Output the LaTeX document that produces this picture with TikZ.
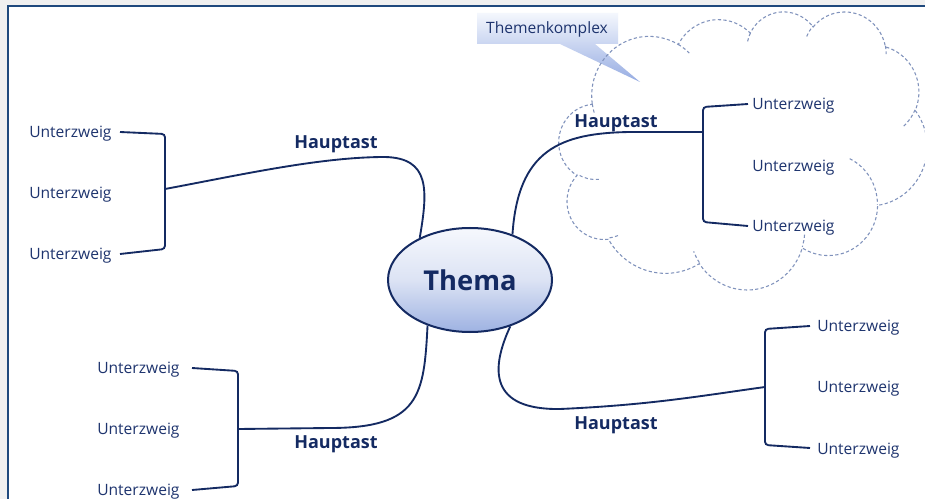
\documentclass[tikz,border=0pt]{standalone}
\usepackage{fontspec}
\setmainfont{Open Sans}
\usetikzlibrary{shapes.geometric}
\definecolor{navy}{RGB}{20,42,98}
\definecolor{txtblue}{RGB}{30,52,110}
\definecolor{frameblue}{RGB}{31,73,125}
\definecolor{bggray}{RGB}{240,240,240}
\definecolor{cloudcol}{RGB}{128,146,188}
\definecolor{elltop}{RGB}{246,248,253}
\definecolor{ellmid}{RGB}{220,227,244}
\definecolor{ellbot}{RGB}{158,178,226}
\definecolor{calltop}{RGB}{244,247,253}
\definecolor{callbot}{RGB}{150,172,226}
\newcommand\cldarc[5]{%
  \pgfmathsetmacro\cra{#2}%
  \pgfmathsetmacro\crb{#3}%
  \pgfmathsetmacro\caa{#4}%
  \pgfmathsetmacro\cab{(#4)+(#5)}%
  \pgfmathsetmacro\cpa{atan2(\cra*sin(\caa),\crb*cos(\caa))}%
  \pgfmathsetmacro\cpa{(\cpa)+360*round(((\caa)-(\cpa))/360)}%
  \pgfmathsetmacro\cpb{atan2(\cra*sin(\cab),\crb*cos(\cab))}%
  \pgfmathsetmacro\cpb{(\cpb)+360*round(((\cab)-(\cpb))/360)}%
  \expandafter\xdef\csname cldarc#1\endcsname{arc[start angle=\cpa, end angle=\cpb, x radius=#2, y radius=#3]}%
}
\begin{document}
\begin{tikzpicture}[x=0.75pt, y=-0.75pt,
  sub/.style={font=\fontsize{11.7}{14}\selectfont, text=txtblue, inner sep=0pt, anchor=mid west},
  haupt/.style={font=\fontsize{13.5}{16}\selectfont\bfseries, text=navy, inner sep=0pt},
  branch/.style={draw=navy, line width=1.4pt},
  bracket/.style={draw=navy, line width=1.4pt, rounded corners=2.5pt},
  cloudline/.style={draw=cloudcol, line width=0.8pt, dash pattern=on 2.4pt off 1.8pt},
]
\cldarc{A}{6.753}{9.190}{-190.48748}{123.78053}
\cldarc{B}{5.333}{7.267}{-144.10238}{89.94523}
\cldarc{C}{4.365}{5.945}{-145.80792}{99.72302}
\cldarc{D}{4.857}{6.595}{-130.98607}{117.24173}
\cldarc{E}{5.333}{7.273}{-78.70888}{109.02692}
\cldarc{F}{6.775}{9.220}{-46.26725}{130.269}
\cldarc{G}{5.785}{7.867}{0.62502}{114.03333}
\cldarc{H}{6.752}{9.215}{22.4516}{115.17255}
\cldarc{I}{7.720}{10.543}{66.24263}{75.71102}
\cldarc{J}{4.360}{5.918}{-274.94208}{146.73557}
\cldarc{K}{4.345}{5.945}{-246.8285}{152.51885}
\cldarc{Ia}{4.345}{5.945}{86.742}{26.4295}
\cldarc{Ib}{4.360}{5.918}{73.61047}{11.44747}
\cldarc{Ic}{6.752}{9.215}{137.62415}{14.0811}
\cldarc{Id}{6.752}{9.215}{6.45327}{15.99835}
\cldarc{Ie}{5.785}{7.867}{-70.29235}{70.91737}
\cldarc{If}{5.333}{7.273}{30.31803}{27.7515}
\cldarc{Ig}{4.857}{6.595}{-13.74433}{14.8589}
\cldarc{Ih}{4.857}{6.595}{-149.18145}{18.19537}
\cldarc{Ii}{4.365}{5.945}{-163.49427}{17.68635}
\cldarc{Ij}{6.753}{9.190}{-66.70695}{12.31935}
\cldarc{Ik}{6.753}{9.190}{157.65435}{11.85817}

\clip (0,0) rectangle (925,499);
\fill[bggray] (0,0) rectangle (925,499);
\filldraw[fill=white, draw=frameblue, line width=1.5pt] (8,6) rectangle (945,520);

% callout
\shade[top color=calltop, bottom color=callbot] (477,13) -- (618,13) -- (618,44) -- (595,44) -- (640,82) -- (560,44) -- (477,44) -- cycle;
\node[font=\fontsize{11.7}{14}\selectfont, text=txtblue, inner sep=0pt] (komplex) at (547,29.5) {Themenkomplex};

% cloud
\begin{scope}[shift={(559,11)}, xscale=368/43.2, yscale=278/43.2]
\draw[cloudline] (3.9,14.37) \cldarcA \cldarcB \cldarcC \cldarcD \cldarcE \cldarcF \cldarcG \cldarcH \cldarcI \cldarcJ \cldarcK -- cycle;
\draw[cloudline] (4.693,26.177) \cldarcIa;
\draw[cloudline] (6.928,34.899) \cldarcIb;
\draw[cloudline] (16.478,39.09) \cldarcIc;
\draw[cloudline] (28.827,34.751) \cldarcId;
\draw[cloudline] (34.129,22.954) \cldarcIe;
\draw[cloudline] (41.798,15.354) \cldarcIf;
\draw[cloudline] (38.324,5.426) \cldarcIg;
\draw[cloudline] (29.078,3.952) \cldarcIh;
\draw[cloudline] (22.141,4.72) \cldarcIi;
\draw[cloudline] (14.0,5.192) \cldarcIj;
\draw[cloudline] (4.127,15.789) \cldarcIk;
\end{scope}

% sub-branch texts
\node[sub] (tl1) at (29,133.5) {Unterzweig};
\node[sub] (tl2) at (29,194.5) {Unterzweig};
\node[sub] (tl3) at (29,255.5) {Unterzweig};
\node[sub] (bl1) at (97,369.5) {Unterzweig};
\node[sub] (bl2) at (97,430.5) {Unterzweig};
\node[sub] (bl3) at (97,491.5) {Unterzweig};
\node[sub] (tr1) at (752,106) {Unterzweig};
\node[sub] (tr2) at (752,168) {Unterzweig};
\node[sub] (tr3) at (752,228) {Unterzweig};
\node[sub] (br1) at (817,328) {Unterzweig};
\node[sub] (br2) at (817,389) {Unterzweig};
\node[sub] (br3) at (817,451) {Unterzweig};

% main branch labels
\node[haupt] (h1) at (336,144) {Hauptast};
\node[haupt] (h2) at (336,444) {Hauptast};
\node[haupt] (h3) at (616,123) {Hauptast};
\node[haupt] (h4) at (616,425) {Hauptast};

% bracket points
\coordinate (a1) at (120,132); \coordinate (a2) at (165,134); \coordinate (ah) at (165,189);
\coordinate (a3) at (165,249); \coordinate (a4) at (120,254);
\coordinate (b1) at (192,368); \coordinate (b2) at (238,371); \coordinate (bh) at (238,429);
\coordinate (b3) at (238,486); \coordinate (b4) at (192,490);
\coordinate (c1) at (748,104); \coordinate (c2) at (703,107); \coordinate (ch) at (703,132);
\coordinate (c3) at (703,222); \coordinate (c4) at (748,226);
\coordinate (d1) at (810,326); \coordinate (d2) at (765,329); \coordinate (dh) at (765,387);
\coordinate (d3) at (765,445); \coordinate (d4) at (810,448);

\draw[bracket] (a1) -- (a2) -- (a3) -- (a4);
\draw[bracket] (b1) -- (b2) -- (b3) -- (b4);
\draw[bracket] (c1) -- (c2) -- (c3) -- (c4);
\draw[bracket] (d1) -- (d2) -- (d3) -- (d4);

% central topic
\node[ellipse, draw=navy, line width=1.5pt, top color=elltop, bottom color=ellbot, middle color=ellmid,
  minimum width=123pt, minimum height=78pt, inner sep=0pt,
  font=\fontsize{20.5}{24}\selectfont\bfseries, text=navy] (thema) at (470,280) {Thema};

% main branches
\draw[branch] (thema.140) .. controls (428,190) and (430,158) .. (385,157) .. controls (320,157) and (240,175) .. (ah);
\draw[branch] (thema.47) .. controls (518,150) and (560,133) .. (630,132) -- (ch);
\draw[branch] (thema.227) .. controls (424,395) and (420,428) .. (330,428) -- (bh);
\draw[branch] (thema.311) .. controls (490,370) and (490,410) .. (560,409) .. controls (650,405) and (700,396) .. (dh);
\end{tikzpicture}
\end{document}
